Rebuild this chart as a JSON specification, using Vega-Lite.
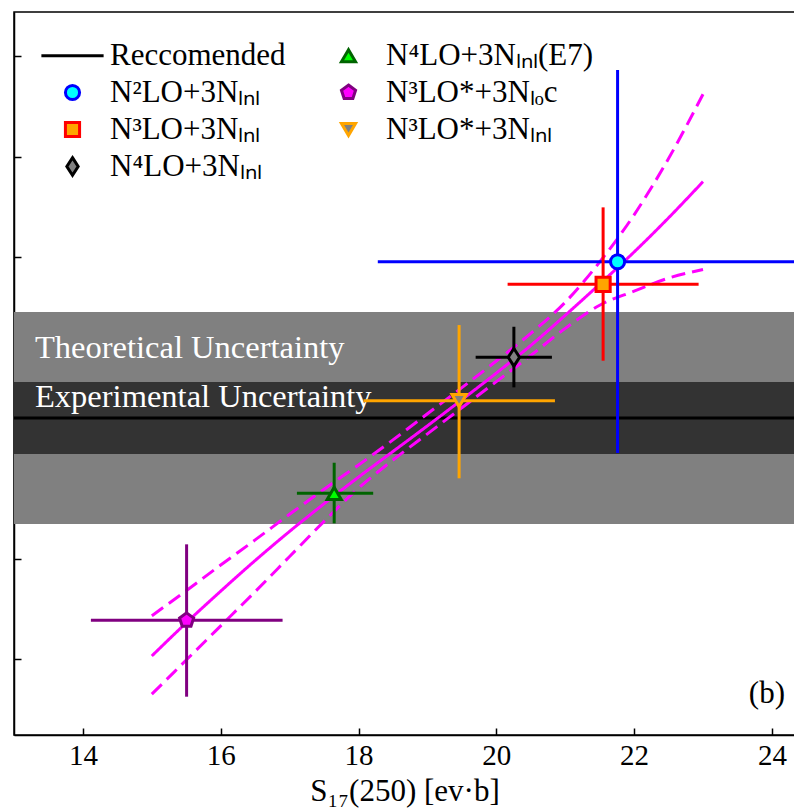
{
  "$schema": "https://vega.github.io/schema/vega-lite/v6.json",
  "width": 781,
  "height": 723,
  "autosize": {"type": "none"},
  "padding": {"left": 14, "top": 12, "right": 0, "bottom": 73},
  "background": "white",
  "config": {
    "view": {"stroke": "black", "strokeWidth": 1.5},
    "font": "Liberation Serif",
    "axis": {
      "grid": false, "domainColor": "black", "domainWidth": 1.5,
      "tickColor": "black", "tickWidth": 1.5, "tickSize": -7,
      "labelColor": "black", "titleColor": "black"
    }
  },
  "datasets": {
    "bands": [
      {"band": "Theoretical", "lo": 2.343, "hi": 4.453},
      {"band": "Experimental", "lo": 3.040, "hi": 3.756}
    ],
    "rec": [{"model": "Reccomended", "y": 3.398}],
    "notes": [
      {"label": "Theoretical Uncertainty", "x": 13.305, "y": 3.995, "kind": "band"},
      {"label": "Experimental Uncertainty", "x": 13.305, "y": 3.507, "kind": "band"},
      {"label": "(b)", "x": 24.19, "y": 0.562, "kind": "panel"}
    ],
    "curves": [
      {"kind": "central", "x": 15, "y": 1.03}, {"kind": "central", "x": 15.5, "y": 1.36}, {"kind": "central", "x": 16, "y": 1.675}, {"kind": "central", "x": 16.5, "y": 1.98}, {"kind": "central", "x": 17, "y": 2.27}, {"kind": "central", "x": 17.5, "y": 2.545}, {"kind": "central", "x": 18, "y": 2.81}, {"kind": "central", "x": 18.5, "y": 3.065}, {"kind": "central", "x": 19, "y": 3.32}, {"kind": "central", "x": 19.5, "y": 3.58}, {"kind": "central", "x": 20, "y": 3.845}, {"kind": "central", "x": 20.5, "y": 4.12}, {"kind": "central", "x": 21, "y": 4.42}, {"kind": "central", "x": 21.5, "y": 4.73}, {"kind": "central", "x": 22, "y": 5.05}, {"kind": "central", "x": 22.5, "y": 5.39}, {"kind": "central", "x": 23, "y": 5.75},
      {"kind": "upper", "x": 15, "y": 1.43}, {"kind": "upper", "x": 15.5, "y": 1.68}, {"kind": "upper", "x": 16, "y": 1.935}, {"kind": "upper", "x": 16.5, "y": 2.185}, {"kind": "upper", "x": 17, "y": 2.44}, {"kind": "upper", "x": 17.5, "y": 2.69}, {"kind": "upper", "x": 18, "y": 2.93}, {"kind": "upper", "x": 18.5, "y": 3.18}, {"kind": "upper", "x": 19, "y": 3.44}, {"kind": "upper", "x": 19.5, "y": 3.70}, {"kind": "upper", "x": 20, "y": 3.965}, {"kind": "upper", "x": 20.5, "y": 4.24}, {"kind": "upper", "x": 21, "y": 4.55}, {"kind": "upper", "x": 21.5, "y": 4.95}, {"kind": "upper", "x": 22, "y": 5.42}, {"kind": "upper", "x": 22.5, "y": 5.98}, {"kind": "upper", "x": 23, "y": 6.62},
      {"kind": "lower", "x": 15, "y": 0.65}, {"kind": "lower", "x": 15.5, "y": 0.99}, {"kind": "lower", "x": 16, "y": 1.33}, {"kind": "lower", "x": 16.5, "y": 1.67}, {"kind": "lower", "x": 17, "y": 2.02}, {"kind": "lower", "x": 17.5, "y": 2.37}, {"kind": "lower", "x": 18, "y": 2.70}, {"kind": "lower", "x": 18.5, "y": 2.98}, {"kind": "lower", "x": 19, "y": 3.24}, {"kind": "lower", "x": 19.5, "y": 3.50}, {"kind": "lower", "x": 20, "y": 3.76}, {"kind": "lower", "x": 20.5, "y": 4.02}, {"kind": "lower", "x": 21, "y": 4.29}, {"kind": "lower", "x": 21.5, "y": 4.52}, {"kind": "lower", "x": 22, "y": 4.66}, {"kind": "lower", "x": 22.5, "y": 4.79}, {"kind": "lower", "x": 23, "y": 4.875}
    ],
    "pts": [
      {"model": "N²LO+3Nₗₙₗ", "x": 21.76, "xlo": 18.28, "xhi": 25.24, "y": 4.953, "ylo": 3.050, "yhi": 6.861},
      {"model": "N³LO+3Nₗₙₗ", "x": 21.55, "xlo": 20.164, "xhi": 22.936, "y": 4.728, "ylo": 3.968, "yhi": 5.494},
      {"model": "N⁴LO+3Nₗₙₗ", "x": 20.255, "xlo": 19.70, "xhi": 20.807, "y": 4.002, "ylo": 3.703, "yhi": 4.306},
      {"model": "N⁴LO+3Nₗₙₗ(E7)", "x": 17.647, "xlo": 17.106, "xhi": 18.213, "y": 2.649, "ylo": 2.350, "yhi": 2.953},
      {"model": "N³LO*+3Nₗₒc", "x": 15.505, "xlo": 14.116, "xhi": 16.898, "y": 1.385, "ylo": 0.625, "yhi": 2.141},
      {"model": "N³LO*+3Nₗₙₗ", "x": 19.46, "xlo": 18.073, "xhi": 20.851, "y": 3.570, "ylo": 2.798, "yhi": 4.323}
    ]
  },
  "layer": [
    {
      "data": {"name": "bands"},
      "transform": [{"filter": "datum.band === 'Theoretical'"}],
      "mark": {"type": "rect", "color": "#808080"},
      "encoding": {
        "y": {"field": "lo", "type": "quantitative"},
        "y2": {"field": "hi"}
      }
    },
    {
      "data": {"name": "bands"},
      "transform": [{"filter": "datum.band === 'Experimental'"}],
      "mark": {"type": "rect", "color": "#333333"},
      "encoding": {
        "y": {"field": "lo", "type": "quantitative"},
        "y2": {"field": "hi"}
      }
    },
    {
      "data": {"name": "rec"},
      "mark": {"type": "rule", "strokeWidth": 3},
      "encoding": {
        "y": {"field": "y", "type": "quantitative"},
        "stroke": {"field": "model", "type": "nominal"}
      }
    },
    {
      "data": {"name": "notes"},
      "transform": [{"filter": "datum.kind === 'band'"}],
      "mark": {"type": "text", "align": "left", "baseline": "alphabetic", "fontSize": 32.5, "color": "white", "font": "Liberation Serif"},
      "encoding": {
        "x": {"field": "x", "type": "quantitative"},
        "y": {"field": "y", "type": "quantitative"},
        "text": {"field": "label"}
      }
    },
    {
      "data": {"name": "notes"},
      "transform": [{"filter": "datum.kind === 'panel'"}],
      "mark": {"type": "text", "align": "right", "baseline": "alphabetic", "fontSize": 31, "color": "black", "font": "Liberation Serif"},
      "encoding": {
        "x": {"field": "x", "type": "quantitative"},
        "y": {"field": "y", "type": "quantitative"},
        "text": {"field": "label"}
      }
    },
    {
      "data": {"name": "curves"},
      "mark": {"type": "line", "color": "#ff00ff", "strokeWidth": 3, "interpolate": "monotone"},
      "encoding": {
        "x": {
          "field": "x", "type": "quantitative",
          "scale": {"domain": [13, 24.335], "nice": false, "zero": false},
          "axis": {"values": [14, 16, 18, 20, 22, 24], "format": "d", "labelFontSize": 29, "labelFont": "Liberation Serif", "labelPadding": 13, "title": "S₁₇(250) [ev·b]", "titleFont": "Liberation Serif", "titleFontSize": 31, "titleFontWeight": "normal", "titlePadding": 6}
        },
        "y": {
          "field": "y", "type": "quantitative",
          "scale": {"domain": [0.2438, 7.438], "nice": false, "zero": false},
          "axis": {"values": [1, 2, 3, 4, 5, 6, 7], "labels": false, "title": null}
        },
        "detail": {"field": "kind"},
        "strokeDash": {
          "field": "kind", "type": "nominal",
          "scale": {"domain": ["central", "upper", "lower"], "range": [[1, 0], [14, 7], [14, 7]]},
          "legend": null
        }
      }
    },
    {
      "data": {"name": "pts"},
      "mark": {"type": "rule", "strokeWidth": 3, "clip": true},
      "encoding": {
        "x": {"field": "xlo", "type": "quantitative"},
        "x2": {"field": "xhi"},
        "y": {"field": "y", "type": "quantitative"},
        "stroke": {"field": "model", "type": "nominal"}
      }
    },
    {
      "data": {"name": "pts"},
      "mark": {"type": "rule", "strokeWidth": 3, "clip": true},
      "encoding": {
        "x": {"field": "x", "type": "quantitative"},
        "y": {"field": "ylo", "type": "quantitative"},
        "y2": {"field": "yhi"},
        "stroke": {"field": "model", "type": "nominal"}
      }
    },
    {
      "data": {"name": "pts"},
      "mark": {"type": "point", "filled": true, "opacity": 1, "size": 200, "strokeWidth": 3},
      "encoding": {
        "x": {"field": "x", "type": "quantitative"},
        "y": {"field": "y", "type": "quantitative"},
        "shape": {
          "field": "model", "type": "nominal",
          "scale": {
            "domain": ["Reccomended", "N²LO+3Nₗₙₗ", "N³LO+3Nₗₙₗ", "N⁴LO+3Nₗₙₗ", "N⁴LO+3Nₗₙₗ(E7)", "N³LO*+3Nₗₒc", "N³LO*+3Nₗₙₗ"],
            "range": ["M-4.4,0L4.4,0", "circle", "square", "M0,-1.25L0.8,0L0,1.25L-0.8,0Z", "triangle-up", "M0,-1.05L1,-0.32L0.62,0.85L-0.62,0.85L-1,-0.32Z", "triangle-down"]
          },
          "legend": {
            "orient": "none", "legendX": 43, "legendY": 28, "columns": 2, "title": null,
            "symbolSize": 200, "symbolStrokeWidth": 3, "symbolOpacity": 1,
            "labelFont": "Liberation Serif", "labelFontSize": 31, "labelColor": "black",
            "labelOffset": 22, "rowPadding": 5, "columnPadding": 47, "labelLimit": 500
          }
        },
        "stroke": {
          "field": "model", "type": "nominal",
          "scale": {
            "domain": ["Reccomended", "N²LO+3Nₗₙₗ", "N³LO+3Nₗₙₗ", "N⁴LO+3Nₗₙₗ", "N⁴LO+3Nₗₙₗ(E7)", "N³LO*+3Nₗₒc", "N³LO*+3Nₗₙₗ"],
            "range": ["black", "#0000ff", "#ff0000", "black", "#006400", "#800080", "#ffa500"]
          }
        },
        "fill": {
          "field": "model", "type": "nominal",
          "scale": {
            "domain": ["Reccomended", "N²LO+3Nₗₙₗ", "N³LO+3Nₗₙₗ", "N⁴LO+3Nₗₙₗ", "N⁴LO+3Nₗₙₗ(E7)", "N³LO*+3Nₗₒc", "N³LO*+3Nₗₙₗ"],
            "range": ["transparent", "#00ffff", "#ffa500", "#808080", "#00ff00", "#ff00ff", "#808080"]
          }
        }
      }
    }
  ]
}
